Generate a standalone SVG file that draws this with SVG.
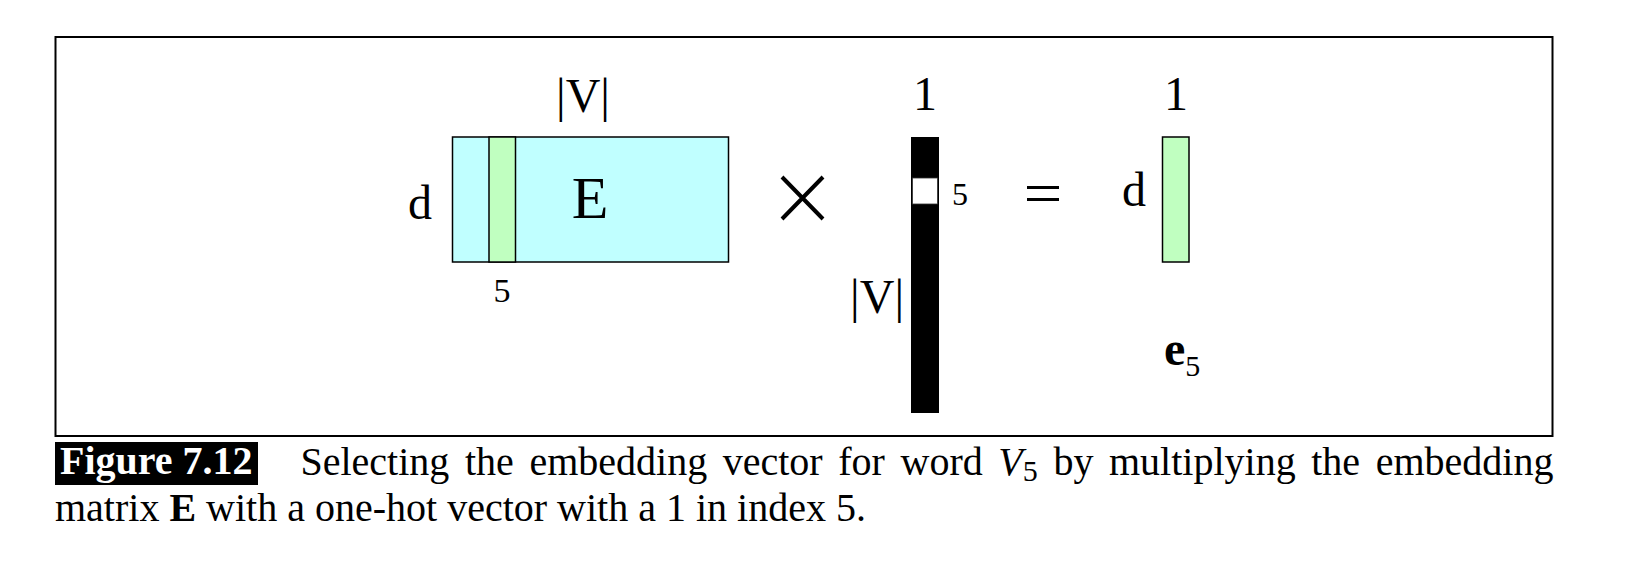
<svg xmlns="http://www.w3.org/2000/svg" width="1626" height="570" viewBox="0 0 1626 570">
<style>
.t{font-family:"Liberation Serif","Times New Roman",serif;fill:#000}
.box{stroke:#000;stroke-width:1.5}
</style>
<rect width="1626" height="570" fill="#fff"/>
<rect id="frame" x="55.5" y="37" width="1497" height="399" fill="none" stroke="#000" stroke-width="2"/>
<g id="matrixE">
<rect class="box" x="452.5" y="137" width="276" height="125" fill="#C0FFFF"/>
<rect class="box" x="489" y="137" width="26.5" height="125" fill="#C0FFC0"/>
<text class="t" x="590" y="218" font-size="60" text-anchor="middle">E</text>
<text class="t" x="583" y="112" font-size="48" text-anchor="middle">|V|</text>
<text class="t" x="420" y="219" font-size="48" text-anchor="middle">d</text>
<text class="t" x="502" y="302" font-size="34" text-anchor="middle">5</text>
</g>
<g id="times">
<path d="M782,177 L823,219 M823,177 L782,219" stroke="#000" stroke-width="4" fill="none"/>
</g>
<g id="onehot">
<rect x="911" y="137" width="28" height="276" fill="#000"/>
<rect x="912.5" y="178" width="25" height="26" fill="#fff" stroke="#333" stroke-width="0.8"/>
<text class="t" x="925" y="110" font-size="48" text-anchor="middle">1</text>
<text class="t" x="960" y="205" font-size="32" text-anchor="middle">5</text>
<text class="t" x="904" y="313" font-size="48" text-anchor="end">|V|</text>
</g>
<g id="equals">
<path d="M1027,187.5 H1059 M1027,199.5 H1059" stroke="#000" stroke-width="3" fill="none"/>
</g>
<g id="vector">
<rect class="box" x="1162.5" y="137" width="26.5" height="125" fill="#C0FFC0"/>
<text class="t" x="1176" y="110" font-size="48" text-anchor="middle">1</text>
<text class="t" x="1134" y="206" font-size="48" text-anchor="middle">d</text>
<text class="t" x="1164" y="365" font-size="48" font-weight="bold">e<tspan font-size="30" font-weight="normal" dy="11">5</tspan></text>
</g>
<g id="connectors"></g>
<g id="caption">
<rect x="55" y="442" width="203" height="43" fill="#000"/>
<text class="t" x="60" y="474" font-size="40" font-weight="bold" style="fill:#fff">Figure 7.12</text>
<text class="t" x="300.5" y="475" font-size="40" word-spacing="5.6">Selecting the embedding vector for word <tspan font-style="italic">V</tspan><tspan font-size="30" dy="6">5</tspan><tspan dy="-6"> by multiplying the embedding</tspan></text>
<text class="t" x="55" y="521" font-size="40">matrix <tspan font-weight="bold">E</tspan> with a one-hot vector with a 1 in index 5.</text>
</g>
</svg>
